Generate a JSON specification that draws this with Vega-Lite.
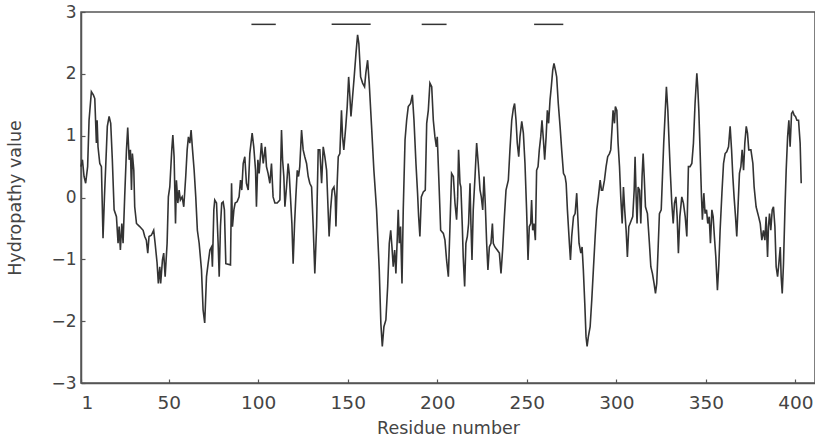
{
  "$schema": "https://vega.github.io/schema/vega-lite/v6.json",
  "width": 734,
  "height": 371,
  "autosize": "none",
  "padding": {"left": 81, "top": 12, "right": 0, "bottom": 62},
  "background": "white",
  "config": {
    "view": {"stroke": "#555", "strokeWidth": 1.5},
    "axis": {
      "grid": false,
      "domainColor": "#555",
      "domainWidth": 1.5,
      "tickColor": "#555",
      "tickWidth": 1.2,
      "labelFont": "DejaVu Sans",
      "labelColor": "#444",
      "titleFont": "DejaVu Sans",
      "titleColor": "#444",
      "titleFontWeight": "normal",
      "titleFontSize": 17.5
    }
  },
  "datasets": {
    "profile": [
      {"r":1,"v":0.50},{"r":1.8,"v":0.61},{"r":2.7,"v":0.34},{"r":3.6,"v":0.23},{"r":4.7,"v":0.50},{"r":5.5,"v":1.25},{"r":6.8,"v":1.71},{"r":7.9,"v":1.66},{"r":8.7,"v":1.60},{"r":9.2,"v":1.20},{"r":9.6,"v":0.88},{"r":10,"v":1.25},{"r":10.5,"v":0.82},{"r":11.5,"v":0.55},{"r":12.4,"v":0.50},{"r":13.3,"v":-0.66},{"r":14.1,"v":0.01},{"r":14.8,"v":0.50},{"r":15.7,"v":1.15},{"r":16.7,"v":1.31},{"r":17.6,"v":1.20},{"r":18.5,"v":0.61},{"r":19.5,"v":-0.20},{"r":20.8,"v":-0.31},{"r":21.7,"v":-0.74},{"r":22.3,"v":-0.47},{"r":23,"v":-0.85},{"r":23.8,"v":-0.42},{"r":24.5,"v":-0.74},{"r":25.4,"v":0.01},{"r":26.4,"v":0.77},{"r":27.1,"v":1.13},{"r":27.9,"v":0.61},{"r":28.6,"v":0.77},{"r":29.2,"v":0.12},{"r":29.7,"v":0.71},{"r":30.5,"v":0.44},{"r":31,"v":-0.15},{"r":32,"v":-0.42},{"r":33.8,"v":-0.47},{"r":35.7,"v":-0.53},{"r":36.6,"v":-0.63},{"r":37.5,"v":-0.69},{"r":38.3,"v":-0.90},{"r":39,"v":-0.63},{"r":40.3,"v":-0.61},{"r":41.6,"v":-0.53},{"r":42.4,"v":-0.74},{"r":43.5,"v":-1.06},{"r":44.2,"v":-1.39},{"r":45,"v":-1.12},{"r":45.5,"v":-1.39},{"r":46.5,"v":-1.01},{"r":47.2,"v":-0.90},{"r":48,"v":-1.28},{"r":49.1,"v":-0.74},{"r":49.8,"v":0.01},{"r":50.6,"v":0.17},{"r":51.7,"v":0.77},{"r":52.3,"v":1.01},{"r":53,"v":0.66},{"r":53.8,"v":-0.42},{"r":54.3,"v":0.28},{"r":55.1,"v":-0.09},{"r":55.8,"v":0.12},{"r":56.5,"v":-0.04},{"r":57.5,"v":0.01},{"r":58.4,"v":-0.15},{"r":59.5,"v":0.34},{"r":60.3,"v":0.77},{"r":61,"v":0.98},{"r":61.8,"v":0.88},{"r":62.5,"v":1.09},{"r":63.3,"v":0.77},{"r":64.2,"v":0.44},{"r":65.1,"v":0.01},{"r":66,"v":-0.53},{"r":67,"v":-0.74},{"r":68.3,"v":-1.17},{"r":69.2,"v":-1.82},
      {"r":70.1,"v":-2.03},{"r":71.1,"v":-1.28},{"r":72,"v":-1.07},{"r":73,"v":-0.85},{"r":73.9,"v":-0.80},{"r":74.4,"v":-1.12},{"r":75.2,"v":-0.20},{"r":75.7,"v":-0.04},{"r":76.7,"v":-0.09},{"r":77.6,"v":-0.74},{"r":78.2,"v":-1.28},{"r":78.9,"v":-0.47},{"r":79.6,"v":-0.09},{"r":80.4,"v":-0.07},{"r":81.1,"v":-0.20},{"r":81.9,"v":-1.07},{"r":84.5,"v":-1.09},{"r":85.1,"v":0.23},{"r":85.6,"v":-0.47},{"r":86.4,"v":-0.20},{"r":87.1,"v":-0.09},{"r":88.2,"v":-0.07},{"r":89.3,"v":0.01},{"r":90.1,"v":0.28},{"r":90.8,"v":0.12},{"r":91.6,"v":0.55},{"r":92.5,"v":0.66},{"r":93.4,"v":0.23},{"r":94.4,"v":0.12},{"r":95.3,"v":0.71},{"r":96.6,"v":1.04},{"r":97.5,"v":0.82},{"r":98.5,"v":0.44},{"r":99,"v":-0.15},{"r":99.8,"v":0.61},{"r":100.5,"v":0.39},{"r":101.8,"v":0.88},{"r":102.8,"v":0.55},{"r":103.9,"v":0.82},{"r":104.6,"v":0.50},{"r":105.5,"v":0.39},{"r":106.5,"v":0.23},{"r":107.4,"v":0.55},{"r":108.3,"v":0.01},{"r":109.3,"v":-0.09},{"r":110.6,"v":-0.09},{"r":112.1,"v":-0.04},{"r":113,"v":1.09},{"r":113.6,"v":0.61},{"r":114.3,"v":0.34},{"r":114.9,"v":-0.15},{"r":115.8,"v":0.17},{"r":116.7,"v":0.55},{"r":117.3,"v":0.39},{"r":118,"v":0.01},{"r":118.8,"v":-0.42},{"r":119.5,"v":-1.07},{"r":120.3,"v":-0.42},{"r":121,"v":0.01},{"r":121.8,"v":0.44},{"r":122.5,"v":0.34},{"r":123.2,"v":0.50},{"r":124.2,"v":1.09},{"r":125.1,"v":0.77},{"r":126,"v":0.66},{"r":127,"v":0.55},{"r":127.9,"v":0.34},{"r":128.8,"v":0.23},{"r":129.8,"v":0.17},{"r":130.7,"v":-0.47},{"r":131.6,"v":-1.23},{"r":132.6,"v":-0.47},{"r":133.5,"v":0.77},
      {"r":134.4,"v":0.77},{"r":135.4,"v":0.23},{"r":136.3,"v":0.82},{"r":137.2,"v":0.66},{"r":138.2,"v":0.44},{"r":139.1,"v":-0.26},{"r":139.6,"v":-0.63},{"r":140.4,"v":-0.20},{"r":141.3,"v":0.12},{"r":142.3,"v":0.17},{"r":143,"v":0.01},{"r":143.4,"v":-0.47},{"r":144.1,"v":0.23},{"r":144.7,"v":0.66},{"r":145.6,"v":0.71},{"r":146.5,"v":1.41},{"r":147.1,"v":0.98},{"r":147.8,"v":0.77},{"r":148.9,"v":1.15},{"r":149.7,"v":1.47},{"r":150.5,"v":1.95},{"r":151.2,"v":1.63},{"r":151.8,"v":1.31},{"r":152.7,"v":1.63},{"r":153.6,"v":1.95},{"r":154.6,"v":2.33},{"r":155.5,"v":2.63},{"r":156.2,"v":2.49},{"r":157.2,"v":1.95},{"r":158.3,"v":1.85},{"r":159.4,"v":1.79},{"r":160.1,"v":2.01},{"r":161.1,"v":2.22},{"r":162,"v":1.85},{"r":163.3,"v":1.15},{"r":164.6,"v":0.44},{"r":166.1,"v":-0.20},{"r":167.6,"v":-1.17},{"r":168.5,"v":-2.04},{"r":169.3,"v":-2.41},{"r":170.2,"v":-2.09},{"r":171.3,"v":-1.98},{"r":172.3,"v":-1.44},{"r":173.2,"v":-0.74},{"r":174,"v":-0.53},{"r":174.7,"v":-0.80},{"r":175.4,"v":-1.12},{"r":176.2,"v":-0.85},{"r":176.9,"v":-1.23},{"r":177.7,"v":-0.63},{"r":178.2,"v":-0.20},{"r":178.8,"v":-0.74},{"r":179.5,"v":-0.47},{"r":180.3,"v":-1.39},{"r":181,"v":-0.20},{"r":182,"v":0.93},{"r":182.9,"v":1.25},{"r":183.8,"v":1.47},{"r":185.1,"v":1.52},{"r":186.1,"v":1.66},{"r":187,"v":1.25},{"r":188.1,"v":0.55},{"r":189,"v":0.07},{"r":189.6,"v":-0.31},{"r":190.3,"v":-0.63},{"r":191.1,"v":0.01},{"r":192.2,"v":0.09},{"r":193.3,"v":0.12},{"r":194.1,"v":1.20},{"r":195,"v":1.41},{"r":195.9,"v":1.85},{"r":196.9,"v":1.79},{"r":197.8,"v":1.25},{"r":198.7,"v":0.98},{"r":199.5,"v":0.82},{"r":200,"v":0.98},{"r":201.1,"v":0.12},{"r":201.9,"v":-0.53},
      {"r":203.4,"v":-0.58},{"r":204.3,"v":-0.69},{"r":205.2,"v":-1.01},{"r":206.2,"v":-1.28},{"r":207.1,"v":-0.47},{"r":208,"v":0.39},{"r":209,"v":0.34},{"r":209.9,"v":-0.09},{"r":210.8,"v":-0.36},{"r":211.4,"v":0.01},{"r":211.9,"v":0.77},{"r":212.7,"v":0.23},{"r":213.2,"v":0.17},{"r":214,"v":-0.47},{"r":214.5,"v":-0.96},{"r":215.3,"v":-1.44},{"r":216,"v":-0.74},{"r":216.8,"v":-0.63},{"r":217.5,"v":-0.42},{"r":218.3,"v":0.23},{"r":218.8,"v":-0.42},{"r":219.4,"v":-1.01},{"r":220.1,"v":-0.20},{"r":221.1,"v":0.34},{"r":222,"v":0.88},{"r":222.9,"v":0.55},{"r":223.9,"v":0.12},{"r":224.6,"v":0.01},{"r":225.4,"v":-0.20},{"r":226.1,"v":0.34},{"r":226.8,"v":-0.09},{"r":227.6,"v":-0.74},{"r":228.3,"v":-1.17},{"r":229.1,"v":-0.80},{"r":230,"v":-0.74},{"r":230.8,"v":-0.42},{"r":231.3,"v":-0.74},{"r":232.2,"v":-0.80},{"r":233.5,"v":-0.85},{"r":234.7,"v":-0.90},{"r":235.6,"v":-1.23},{"r":236.5,"v":-0.85},{"r":237.5,"v":-0.31},{"r":238.4,"v":0.12},{"r":239.7,"v":0.28},{"r":240.6,"v":0.77},{"r":241.6,"v":1.25},{"r":242.5,"v":1.44},{"r":243.2,"v":1.52},{"r":244,"v":1.25},{"r":244.7,"v":0.88},{"r":245.5,"v":0.66},{"r":246.2,"v":0.98},{"r":247.2,"v":1.23},{"r":248.1,"v":1.04},{"r":249,"v":0.55},{"r":249.9,"v":-0.20},{"r":250.7,"v":-1.01},{"r":251.4,"v":-0.47},{"r":252.2,"v":-0.42},{"r":252.7,"v":-0.04},{"r":253.3,"v":-0.53},{"r":254,"v":-0.42},{"r":254.8,"v":-0.69},{"r":255.5,"v":0.44},{"r":256.3,"v":0.50},{"r":257,"v":0.77},{"r":257.8,"v":0.98},{"r":258.5,"v":1.25},{"r":259.3,"v":0.93},{"r":260,"v":0.61},{"r":260.8,"v":0.98},{"r":261.5,"v":1.41},{"r":262.2,"v":1.20},{"r":263,"v":1.58},{"r":263.7,"v":1.79},{"r":264.5,"v":2.06},{"r":265.2,"v":2.17},{"r":266,"v":2.06},{"r":266.7,"v":1.95},{"r":267.6,"v":1.52},{"r":268.6,"v":1.15},
      {"r":269.5,"v":0.77},{"r":270.5,"v":0.39},{"r":271.4,"v":0.34},{"r":272,"v":0.23},{"r":272.7,"v":-0.20},{"r":273.8,"v":-0.74},{"r":274.4,"v":-1.01},{"r":275.1,"v":-0.63},{"r":276.1,"v":-0.31},{"r":277,"v":-0.26},{"r":277.9,"v":0.07},{"r":278.5,"v":-0.31},{"r":279.2,"v":-0.74},{"r":280.2,"v":-0.90},{"r":280.9,"v":-0.80},{"r":281.6,"v":-1.17},{"r":282.4,"v":-1.71},{"r":283.1,"v":-2.25},{"r":283.7,"v":-2.41},{"r":284.4,"v":-2.25},{"r":285.4,"v":-2.09},{"r":286.3,"v":-1.66},{"r":287.2,"v":-1.17},{"r":288.2,"v":-0.63},{"r":289.1,"v":-0.20},{"r":290,"v":0.01},{"r":291,"v":0.28},{"r":291.7,"v":0.12},{"r":292.4,"v":0.12},{"r":293.4,"v":0.28},{"r":294.3,"v":0.50},{"r":295.2,"v":0.66},{"r":296.2,"v":0.71},{"r":296.9,"v":0.77},{"r":297.7,"v":1.15},{"r":298.2,"v":1.41},{"r":299,"v":1.20},{"r":299.5,"v":1.47},{"r":300.3,"v":1.41},{"r":301,"v":0.88},{"r":301.8,"v":0.50},{"r":302.5,"v":0.01},{"r":303.3,"v":-0.42},{"r":304,"v":0.17},{"r":304.7,"v":-0.20},{"r":305.5,"v":-0.53},{"r":306.2,"v":-0.96},{"r":307,"v":-0.47},{"r":307.7,"v":-0.42},{"r":308.5,"v":-0.36},{"r":309.2,"v":-0.31},{"r":310,"v":0.12},{"r":310.5,"v":0.66},{"r":311.1,"v":0.01},{"r":311.6,"v":-0.42},{"r":312.2,"v":0.17},{"r":313,"v":0.12},{"r":313.7,"v":-0.42},{"r":314.4,"v":0.34},{"r":315,"v":0.71},{"r":315.6,"v":0.34},{"r":316.3,"v":-0.15},{"r":317.4,"v":-0.26},{"r":318.5,"v":-0.74},{"r":319.3,"v":-1.12},{"r":320.2,"v":-1.23},{"r":321.1,"v":-1.39},{"r":321.9,"v":-1.55},{"r":322.6,"v":-1.39},{"r":323.4,"v":-0.80},{"r":324.1,"v":-0.26},{"r":325.1,"v":-0.20},{"r":325.8,"v":0.34},{"r":326.5,"v":0.88},{"r":327.3,"v":1.36},{"r":328,"v":1.79},{"r":328.8,"v":1.41},{"r":329.5,"v":0.88},{"r":330.3,"v":0.34},{"r":331,"v":-0.09},{"r":331.8,"v":-0.42},{"r":332.5,"v":-0.09},{"r":333.3,"v":0.01},{"r":334,"v":-0.31},{"r":334.7,"v":-0.90},{"r":335.5,"v":-0.31},
      {"r":336.6,"v":0.01},{"r":337.5,"v":-0.09},{"r":338.5,"v":-0.31},{"r":339.4,"v":-0.63},{"r":340.3,"v":0.50},{"r":341.2,"v":0.50},{"r":342.2,"v":0.55},{"r":343.1,"v":0.88},{"r":344,"v":1.52},{"r":345,"v":2.01},{"r":345.5,"v":1.79},{"r":346.1,"v":1.41},{"r":346.8,"v":0.77},{"r":347.6,"v":0.01},{"r":348.1,"v":-0.36},{"r":348.9,"v":0.07},{"r":349.6,"v":-0.26},{"r":350.4,"v":-0.20},{"r":351.1,"v":-0.42},{"r":351.9,"v":-0.31},{"r":352.6,"v":-0.74},{"r":353.4,"v":-0.20},{"r":354.1,"v":-0.31},{"r":354.8,"v":-0.63},{"r":355.6,"v":-0.96},{"r":356.5,"v":-1.50},{"r":357.3,"v":-1.07},{"r":358,"v":-0.53},{"r":359,"v":0.07},{"r":359.9,"v":0.55},{"r":360.8,"v":0.71},{"r":361.7,"v":0.74},{"r":362.7,"v":0.82},{"r":363.6,"v":1.15},{"r":364.4,"v":0.77},{"r":365.1,"v":0.34},{"r":365.8,"v":0.01},{"r":366.6,"v":-0.31},{"r":367.3,"v":-0.63},{"r":368.1,"v":-0.09},{"r":368.8,"v":0.39},{"r":369.6,"v":0.50},{"r":370.3,"v":0.77},{"r":371.1,"v":0.44},{"r":371.8,"v":0.88},{"r":372.6,"v":1.15},{"r":373.3,"v":1.04},{"r":374,"v":0.77},{"r":375.2,"v":0.77},{"r":376.3,"v":0.55},{"r":377,"v":0.17},{"r":378.1,"v":-0.15},{"r":379.5,"v":-0.31},{"r":380.4,"v":-0.42},{"r":381.3,"v":-0.69},{"r":382.2,"v":-0.53},{"r":383,"v":-0.69},{"r":383.7,"v":-0.31},{"r":384.5,"v":-0.96},{"r":385,"v":-0.47},{"r":385.6,"v":-0.26},{"r":386.3,"v":-0.53},{"r":387.1,"v":-0.20},{"r":387.8,"v":-0.15},{"r":388.6,"v":-0.47},{"r":389.3,"v":-1.12},{"r":390.1,"v":-1.28},{"r":390.8,"v":-1.07},{"r":391.6,"v":-0.80},{"r":392.1,"v":-1.28},{"r":392.7,"v":-1.55},{"r":393.4,"v":-1.07},{"r":394.2,"v":-0.20},{"r":394.9,"v":0.44},{"r":395.7,"v":0.98},{"r":396.4,"v":1.25},{"r":397.1,"v":0.82},{"r":397.9,"v":1.36},{"r":398.6,"v":1.39},{"r":399.4,"v":1.33},{"r":400.1,"v":1.31},{"r":400.9,"v":1.25},{"r":401.8,"v":1.25},{"r":402.7,"v":0.88},{"r":403.3,"v":0.23}
    ],
    "segments": [
      {"start": 96.2, "end": 109.8},
      {"start": 141, "end": 162.8},
      {"start": 191.3, "end": 205.2},
      {"start": 254.1, "end": 270.4}
    ]
  },
  "layer": [
    {
      "data": {"name": "profile"},
      "mark": {"type": "line", "color": "#333", "strokeWidth": 1.6},
      "encoding": {
        "x": {
          "field": "r",
          "type": "quantitative",
          "scale": {"domain": [1, 411], "nice": false, "zero": false},
          "axis": {
            "values": [1, 50, 100, 150, 200, 250, 300, 350, 400],
            "format": "d",
            "title": "Residue number",
            "labelFontSize": 18.5,
            "labelPadding": 14,
            "tickSize": -4,
            "titlePadding": 8
          }
        },
        "y": {
          "field": "v",
          "type": "quantitative",
          "scale": {"domain": [-3, 3], "nice": false},
          "axis": {
            "values": [-3, -2, -1, 0, 1, 2, 3],
            "format": "d",
            "title": "Hydropathy value",
            "labelFontSize": 17,
            "labelPadding": 9,
            "tickSize": -4,
            "titlePadding": 26
          }
        }
      }
    },
    {
      "data": {"name": "segments"},
      "mark": {"type": "rule", "color": "#333", "strokeWidth": 1.5},
      "encoding": {
        "x": {"field": "start", "type": "quantitative"},
        "x2": {"field": "end"},
        "y": {"datum": 2.8}
      }
    }
  ]
}
